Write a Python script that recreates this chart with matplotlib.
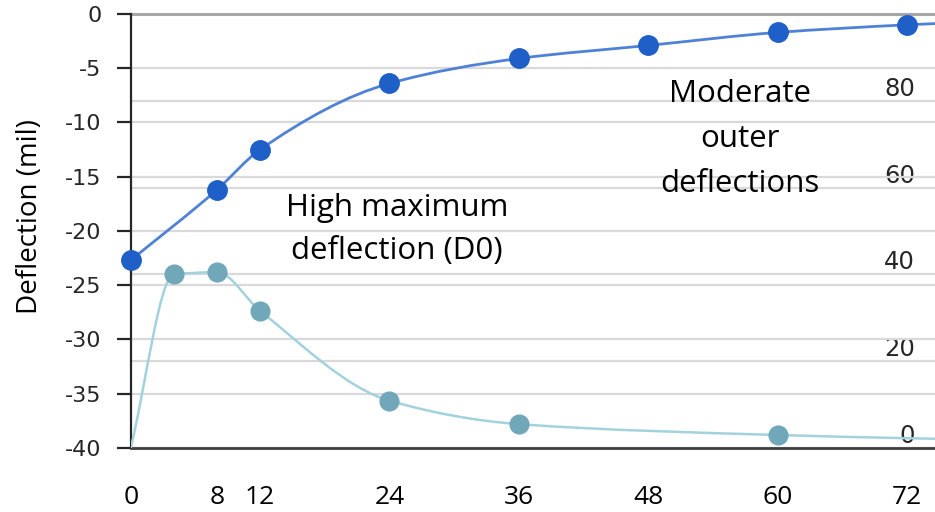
import numpy as np
import matplotlib
matplotlib.use("Agg")
import matplotlib.pyplot as plt
from matplotlib.path import Path
from matplotlib.patches import PathPatch

# ---- data ----
offsets = [0, 8, 12, 24, 36, 48, 60, 72, 84]
deflection = [-22.7, -16.2, -12.5, -6.4, -4.1, -2.9, -1.7, -1.0, -0.5]

offsets2 = [0, 4, 8, 12, 24, 36, 60, 84]
series2 = [0, 40.0, 40.5, 31.6, 10.9, 5.5, 3.0, 1.6]

xticks = [0, 8, 12, 24, 36, 48, 60, 72]
left_ticks = [0, -5, -10, -15, -20, -25, -30, -35, -40]
right_ticks = [0, 20, 40, 60, 80]

BLUE_M = "#1f5fc8"
BLUE_L = "#4f82d6"
TEAL_M = "#70a8ba"
TEAL_L = "#a3d2df"
TXT = "Open Sans"


def pchip_slopes(x, y):
    x = np.asarray(x, float)
    y = np.asarray(y, float)
    h = np.diff(x)
    d = np.diff(y) / h
    n = len(x)
    m = np.zeros(n)
    for k in range(1, n - 1):
        if d[k - 1] * d[k] <= 0:
            m[k] = 0.0
        else:
            w1 = 2 * h[k] + h[k - 1]
            w2 = h[k] + 2 * h[k - 1]
            m[k] = (w1 + w2) / (w1 / d[k - 1] + w2 / d[k])
    m[0] = d[0]
    m[-1] = d[-1]
    return m


def smooth_path(xs, ys):
    xs = np.asarray(xs, float)
    ys = np.asarray(ys, float)
    m = pchip_slopes(xs, ys)
    verts = [(xs[0], ys[0])]
    codes = [Path.MOVETO]
    for i in range(len(xs) - 1):
        h = xs[i + 1] - xs[i]
        verts += [(xs[i] + h / 3, ys[i] + m[i] * h / 3),
                  (xs[i + 1] - h / 3, ys[i + 1] - m[i + 1] * h / 3),
                  (xs[i + 1], ys[i + 1])]
        codes += [Path.CURVE4] * 3
    return Path(verts, codes)


fig = plt.figure(figsize=(9.35, 5.12), dpi=100)
ax = fig.add_axes([0.1398, 0.125, 0.8602, 0.8477])
ax2 = ax.twinx()
ax.set_zorder(2)
ax2.set_zorder(1)
ax.patch.set_visible(False)

ax.set_xlim(0, 74.6)
ax.set_ylim(-40, 0)
ax2.set_ylim(0, 100)

# grid lines
ax.set_yticks(left_ticks)
ax.yaxis.grid(True, color="#d9d9d9", linewidth=1.6)
ax.set_axisbelow(True)
ax2.set_yticks(right_ticks)
ax2.yaxis.grid(True, color="#d9d9d9", linewidth=1.6)
ax.axhline(0, color="#a6a6a6", linewidth=2.2, zorder=1, clip_on=False)

# spines
for s in ["top", "right"]:
    ax.spines[s].set_visible(False)
    ax2.spines[s].set_visible(False)
ax2.spines["left"].set_visible(False)
ax2.spines["bottom"].set_visible(False)
ax.spines["left"].set_color("#262626")
ax.spines["left"].set_linewidth(1.6)
ax.spines["bottom"].set_color("#404040")
ax.spines["bottom"].set_linewidth(2.0)

# ticks
ax.set_xticks(xticks)
ax.set_xticklabels([str(t) for t in xticks], fontsize=19, family=TXT, color="#000000")
ax.tick_params(axis="x", length=0, pad=27)
ax.set_yticklabels([str(t) for t in left_ticks], fontsize=16, family="DejaVu Sans", color="#262626")
ax.tick_params(axis="y", length=10, width=1.6, color="#262626", pad=11)

ax2.set_yticklabels([str(t) for t in right_ticks], fontsize=17.5, family="DejaVu Sans", color="#262626")
ax2.tick_params(axis="y", length=0, pad=-14.5)
for t in ax2.yaxis.get_major_ticks():
    t.label2.set_horizontalalignment("right")
    t.label2.set_verticalalignment("bottom")

ax.set_ylabel("Deflection (mil)", fontsize=20, family=TXT)
ax.yaxis.set_label_coords(-0.108, 0.533)

# series 1 (left axis)
ax.add_patch(PathPatch(smooth_path(offsets, deflection), facecolor="none",
                       edgecolor=BLUE_L, linewidth=2.0, zorder=3))
ax.plot(offsets, deflection, linestyle="none", marker="o", markersize=14,
        color=BLUE_M, zorder=4, clip_on=False)

# series 2 (right axis scale)
ax.add_patch(PathPatch(smooth_path(offsets2, series2), facecolor="none",
                       edgecolor=TEAL_L, linewidth=1.8, zorder=3,
                       transform=ax2.transData))
ax.plot(offsets2[1:-1], series2[1:-1], linestyle="none", marker="o", markersize=13.5,
        color=TEAL_M, zorder=4, transform=ax2.transData)

# annotations
ann = dict(fontsize=22.5, family=TXT, ha="center", va="baseline", zorder=5)
ax.text(24.7, -18.62, "High maximum", **ann)
ax.text(24.7, -22.58, "deflection (D0)", **ann)
ax.text(56.5, -8.11, "Moderate", **ann)
ax.text(56.5, -12.26, "outer", **ann)
ax.text(56.5, -16.41, "deflections", **ann)

fig.savefig("out.png", dpi=100)
